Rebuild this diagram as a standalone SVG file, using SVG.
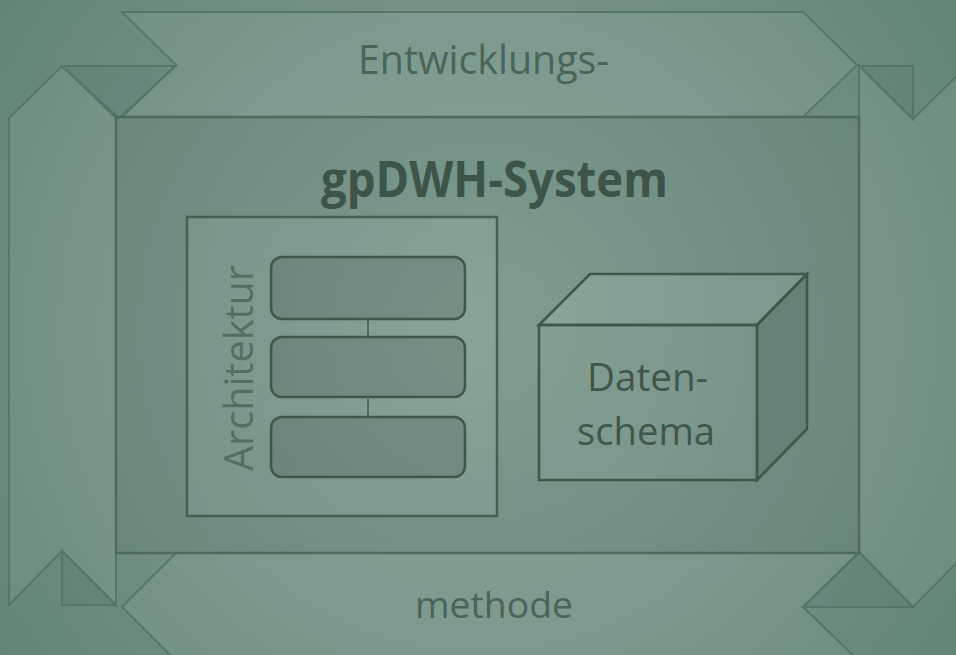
<svg xmlns="http://www.w3.org/2000/svg" width="956" height="655" viewBox="0 0 956 655">
<defs>
<radialGradient id="bg" cx="480" cy="330" r="620" gradientUnits="userSpaceOnUse">
<stop offset="0" stop-color="#85a396"/>
<stop offset="0.55" stop-color="#749184"/>
<stop offset="1" stop-color="#5e8373"/>
</radialGradient>
<style>
.band{fill:#ffffff;fill-opacity:0.06;stroke:#557769;stroke-width:2;stroke-linejoin:miter}
.tri{fill:#000000;fill-opacity:0.04;stroke:#557769;stroke-width:2}
.inner{fill:#000000;fill-opacity:0.035;stroke:#4d6a5d;stroke-width:2.5}
.box{fill:#ffffff;fill-opacity:0.07;stroke:#45604f;stroke-width:2.5}
.layer{fill:#000000;fill-opacity:0.12;stroke:#3f584b;stroke-width:2.5}
.cube{stroke:#3f574b;stroke-width:2.5;stroke-linejoin:miter}
.conn{stroke:#4d6a5d;stroke-width:2;fill:none}
.t{font-family:"Open Sans","Liberation Sans",sans-serif}
</style>
</defs>
<rect width="956" height="655" fill="url(#bg)"/>
<g id="band-top"><polygon class="band" points="122,12 803,12 857,65 803,117 122,117 176,65"/></g>
<g id="band-right"><polygon class="band" points="859,66 913,119 967,66 967,552 913,607 859,552"/></g>
<g id="band-bottom"><polygon class="band" points="176,553 859,553 803,607 859,661 176,661 122,607"/></g>
<g id="band-left"><polygon class="band" points="9,118 62,66 116,118 116,605 62,551 9,605"/></g>
<g id="corners">
<polygon class="tri" points="62,66 176,66 119,118"/>
<polygon class="tri" points="859,66 913,66 913,119"/>
<polygon class="tri" points="859,552 803,607 913,607"/>
<polygon class="tri" points="62,551 62,605 116,605"/>
</g>
<g id="system"><rect class="inner" x="116" y="117" width="743" height="436"/></g>
<g id="label-top"><text class="t" x="358" y="74" font-size="40" fill="#4a6558" textLength="251" lengthAdjust="spacingAndGlyphs">Entwicklungs-</text></g>
<g id="label-bottom"><text class="t" x="415" y="618" font-size="37" fill="#4a6558" textLength="158" lengthAdjust="spacingAndGlyphs">methode</text></g>
<g id="title"><text class="t" x="321" y="197" font-size="50" font-weight="bold" fill="#3d5448" textLength="347" lengthAdjust="spacingAndGlyphs">gpDWH-System</text></g>
<g id="architektur">
<rect class="box" x="187" y="217" width="310" height="299"/>
<text class="t" transform="translate(253,471) rotate(-90)" x="0" y="0" font-size="41" fill="#52705f" textLength="206" lengthAdjust="spacingAndGlyphs">Architektur</text>
</g>
<g id="layer1"><rect class="layer" x="271" y="257" width="194" height="62" rx="11"/></g>
<g id="layer2"><rect class="layer" x="271" y="337" width="194" height="60" rx="11"/></g>
<g id="layer3"><rect class="layer" x="271" y="417" width="194" height="60" rx="11"/></g>
<g id="connectors">
<line class="conn" x1="368" y1="319" x2="368" y2="337"/>
<line class="conn" x1="368" y1="397" x2="368" y2="417"/>
</g>
<g id="datenschema">
<polygon class="cube" fill="#ffffff" fill-opacity="0.1" points="539,325 590,274 807,274 757,325"/>
<polygon class="cube" fill="#000000" fill-opacity="0.08" points="757,325 807,274 807,429 757,480"/>
<rect class="cube" fill="#ffffff" fill-opacity="0.05" x="539" y="325" width="218" height="155"/>
<text class="t" x="587" y="391" font-size="39" fill="#3f574b" textLength="121" lengthAdjust="spacingAndGlyphs">Daten-</text>
<text class="t" x="577" y="445" font-size="39" fill="#3f574b" textLength="138" lengthAdjust="spacingAndGlyphs">schema</text>
</g>
</svg>
